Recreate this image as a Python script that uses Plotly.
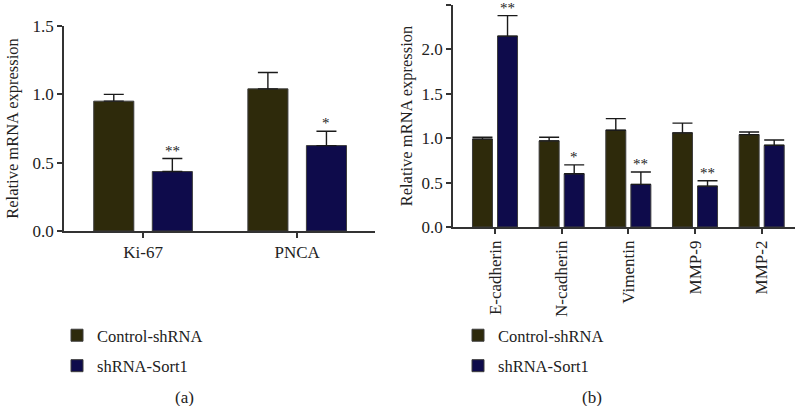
import plotly.graph_objects as go

# ---------------- data ----------------
groups_a = ["Ki-67", "PNCA"]
control_a = [0.95, 1.04]
control_a_err = [0.05, 0.12]
shrna_a = [0.435, 0.625]
shrna_a_err = [0.095, 0.105]
sig_a = ["**", "*"]

genes_b = ["E-cadherin", "N-cadherin", "Vimentin", "MMP-9", "MMP-2"]
control_b = [0.99, 0.97, 1.09, 1.06, 1.04]
control_b_err = [0.02, 0.04, 0.13, 0.11, 0.03]
shrna_b = [2.15, 0.60, 0.48, 0.46, 0.92]
shrna_b_err = [0.23, 0.10, 0.14, 0.06, 0.06]
sig_b = ["**", "*", "**", "**", ""]

series_names = ["Control-shRNA", "shRNA-Sort1"]
y_ticks_a = [0.0, 0.5, 1.0, 1.5]
y_ticks_b = [0.0, 0.5, 1.0, 1.5, 2.0, 2.5]

# ---------------- style ----------------
FONT = "Liberation Serif"
FS = 17
C_CTRL = "#2e2a0b"
C_SH = "#0e0b4b"
EDGE = "#3c3c3c"
AX = "#333333"
TXT = "#222222"

fig = go.Figure()


def add_bar(x, y, err, name, color, xa, ya, width, offset, legend, group):
    fig.add_trace(go.Bar(
        x=x, y=y, name=name, xaxis=xa, yaxis=ya,
        width=width, offset=offset,
        marker=dict(color=color, line=dict(color=EDGE, width=1)),
        error_y=dict(type="data", array=err, arrayminus=[0] * len(err),
                     symmetric=False, color="#1a1a1a", thickness=1.4, width=10),
        legend=legend, legendgroup=group, showlegend=True,
    ))


# panel (a)
add_bar(groups_a, control_a, control_a_err, series_names[0], C_CTRL, "x", "y", 0.26, -0.32, "legend", "a1")
add_bar(groups_a, shrna_a, shrna_a_err, series_names[1], C_SH, "x", "y", 0.26, 0.06, "legend", "a2")
# panel (b)
add_bar(genes_b, control_b, control_b_err, series_names[0], C_CTRL, "x2", "y2", 0.30, -0.338, "legend2", "b1")
add_bar(genes_b, shrna_b, shrna_b_err, series_names[1], C_SH, "x2", "y2", 0.30, 0.038, "legend2", "b2")

star_font = dict(family=FONT, size=15, color=TXT)
annotations = []
for g, v, e, s in zip(groups_a, shrna_a, shrna_a_err, sig_a):
    if s:
        annotations.append(dict(x=g, y=v + e, xref="x", yref="y", text=s, showarrow=False,
                                xshift=29, xanchor="center", yanchor="middle", yshift=8,
                                font=star_font))
for g, v, e, s in zip(genes_b, shrna_b, shrna_b_err, sig_b):
    if s:
        annotations.append(dict(x=g, y=v + e, xref="x2", yref="y2", text=s, showarrow=False,
                                xshift=12.5, xanchor="center", yanchor="middle", yshift=8,
                                font=star_font))

annotations.append(dict(x=184 / 795, y=1 - 397 / 406, xref="paper", yref="paper", text="(a)",
                        xanchor="center", yanchor="middle",
                        showarrow=False, font=dict(family=FONT, size=FS, color=TXT)))
annotations.append(dict(x=592 / 795, y=1 - 397 / 406, xref="paper", yref="paper", text="(b)",
                        xanchor="center", yanchor="middle",
                        showarrow=False, font=dict(family=FONT, size=FS, color=TXT)))

axis_common = dict(showline=True, linecolor=AX, linewidth=1.5, ticks="outside",
                   tickcolor=AX, ticklen=5, tickwidth=1.5, showgrid=False, zeroline=False,
                   automargin=False,
                   tickfont=dict(family=FONT, size=FS, color=TXT))

title_font = dict(family=FONT, size=16.5, color=TXT)
legend_font = dict(family=FONT, size=16.5, color=TXT)

fig.update_layout(
    width=795, height=406,
    margin=dict(l=0, r=0, t=0, b=0, autoexpand=False),
    paper_bgcolor="white", plot_bgcolor="white",
    barmode="overlay",
    font=dict(family=FONT, size=FS, color=TXT),
    xaxis=dict(domain=[64 / 795, 375 / 795], anchor="y", type="category",
               range=[-0.513, 1.505], **axis_common),
    yaxis=dict(domain=[1 - 231 / 406, 1 - 26 / 406], anchor="x", range=[0, 1.5],
               tickvals=y_ticks_a, tickformat=".1f",
               title=dict(text="Relative mRNA expression", font=title_font, standoff=10),
               **axis_common),
    xaxis2=dict(domain=[453 / 795, 1.0], anchor="y2", type="category",
                range=[-0.63, 4.5], tickangle=-90, **axis_common),
    yaxis2=dict(domain=[1 - 227 / 406, 1 - 5 / 406], anchor="x2", range=[0, 2.5],
                tickvals=y_ticks_b, tickformat=".1f",
                title=dict(text="Relative mRNA expression", font=title_font, standoff=5),
                **axis_common),
    legend=dict(x=57 / 795, y=1 - 318 / 406, xanchor="left", yanchor="top",
                traceorder="grouped", tracegroupgap=6, bgcolor="rgba(0,0,0,0)",
                font=legend_font),
    legend2=dict(x=458 / 795, y=1 - 318 / 406, xanchor="left", yanchor="top",
                 traceorder="grouped", tracegroupgap=6, bgcolor="rgba(0,0,0,0)",
                 font=legend_font),
    annotations=annotations,
)

fig.write_html("out.html", config={"displayModeBar": False},
               post_script="document.body.style.margin='0';document.body.style.overflow='hidden';")
